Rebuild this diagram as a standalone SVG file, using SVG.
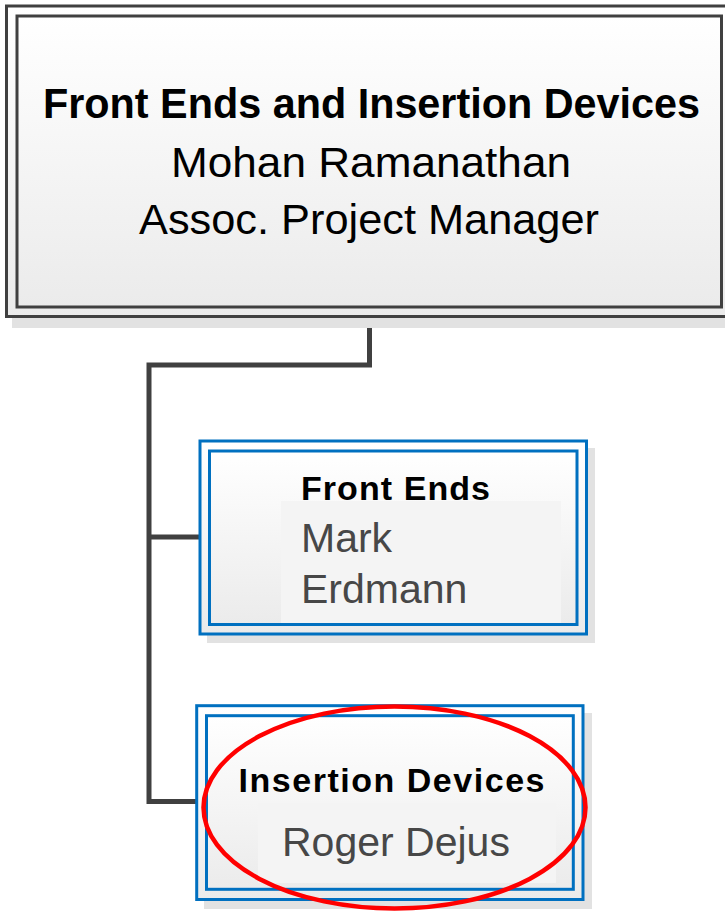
<svg xmlns="http://www.w3.org/2000/svg" width="725" height="911" viewBox="0 0 725 911">
  <defs>
    <linearGradient id="g" x1="0" y1="0" x2="0" y2="1">
      <stop offset="0" stop-color="#ffffff"/>
      <stop offset="1" stop-color="#ebebeb"/>
    </linearGradient>
  </defs>
  <style>
    .shadow { fill: #e2e2e2; }
    .dark { fill: url(#g); stroke: #404040; stroke-width: 3; }
    .blue { fill: url(#g); stroke: #0070c0; stroke-width: 3; }
    .bg { fill: #f4f4f4; }
    .conn { fill: none; stroke: #404040; stroke-width: 5; }
    .title { font-family: "Liberation Sans", Arial, sans-serif; font-weight: bold; fill: #000000; }
    .name { font-family: "Liberation Sans", Arial, sans-serif; fill: #474747; }
    .top { font-family: "Liberation Sans", Arial, sans-serif; fill: #000000; }
  </style>
  <rect x="0" y="0" width="725" height="911" fill="#ffffff"/>

  <g id="connectors">
    <polyline class="conn" points="369.5,318 369.5,365 149,365 149,801.5 197,801.5"/>
    <line class="conn" x1="149" y1="537" x2="200" y2="537"/>
  </g>

  <g id="node-top">
    <rect class="shadow" x="12" y="316" width="720" height="12"/>
    <rect class="dark" x="6.5" y="6" width="730" height="310.5"/>
    <rect class="dark" x="17" y="16" width="704.5" height="291"/>
    <text class="title" x="371.5" y="118" font-size="42" text-anchor="middle" textLength="657" lengthAdjust="spacingAndGlyphs">Front Ends and Insertion Devices</text>
    <text class="top" x="371" y="177" font-size="43" text-anchor="middle" textLength="400" lengthAdjust="spacingAndGlyphs">Mohan Ramanathan</text>
    <text class="top" x="369" y="234" font-size="43" text-anchor="middle" textLength="460" lengthAdjust="spacingAndGlyphs">Assoc. Project Manager</text>
  </g>

  <g id="node-front-ends">
    <rect class="shadow" x="207" y="448" width="388" height="195"/>
    <rect class="blue" x="200" y="441" width="386.5" height="193"/>
    <rect class="blue" x="209.5" y="451" width="367.5" height="173.5"/>
    <rect class="bg" x="281" y="501" width="280" height="122"/>
    <text class="title" x="301" y="500" font-size="34" textLength="189" lengthAdjust="spacing">Front Ends</text>
    <text class="name" x="301" y="552" font-size="41">Mark</text>
    <text class="name" x="301" y="603" font-size="41">Erdmann</text>
  </g>

  <g id="node-insertion-devices">
    <rect class="shadow" x="204" y="713" width="388" height="196"/>
    <rect class="blue" x="196.7" y="705.7" width="386.3" height="193.8"/>
    <rect class="blue" x="206.5" y="715.7" width="366.8" height="173.6"/>
    <rect class="bg" x="258" y="803" width="298" height="80"/>
    <text class="title" x="238.5" y="791.5" font-size="34" textLength="306" lengthAdjust="spacing">Insertion Devices</text>
    <text class="name" x="282" y="856" font-size="41">Roger Dejus</text>
    <ellipse cx="394.5" cy="807.5" rx="191" ry="101" fill="none" stroke="#ff0000" stroke-width="4.5"/>
  </g>
</svg>
